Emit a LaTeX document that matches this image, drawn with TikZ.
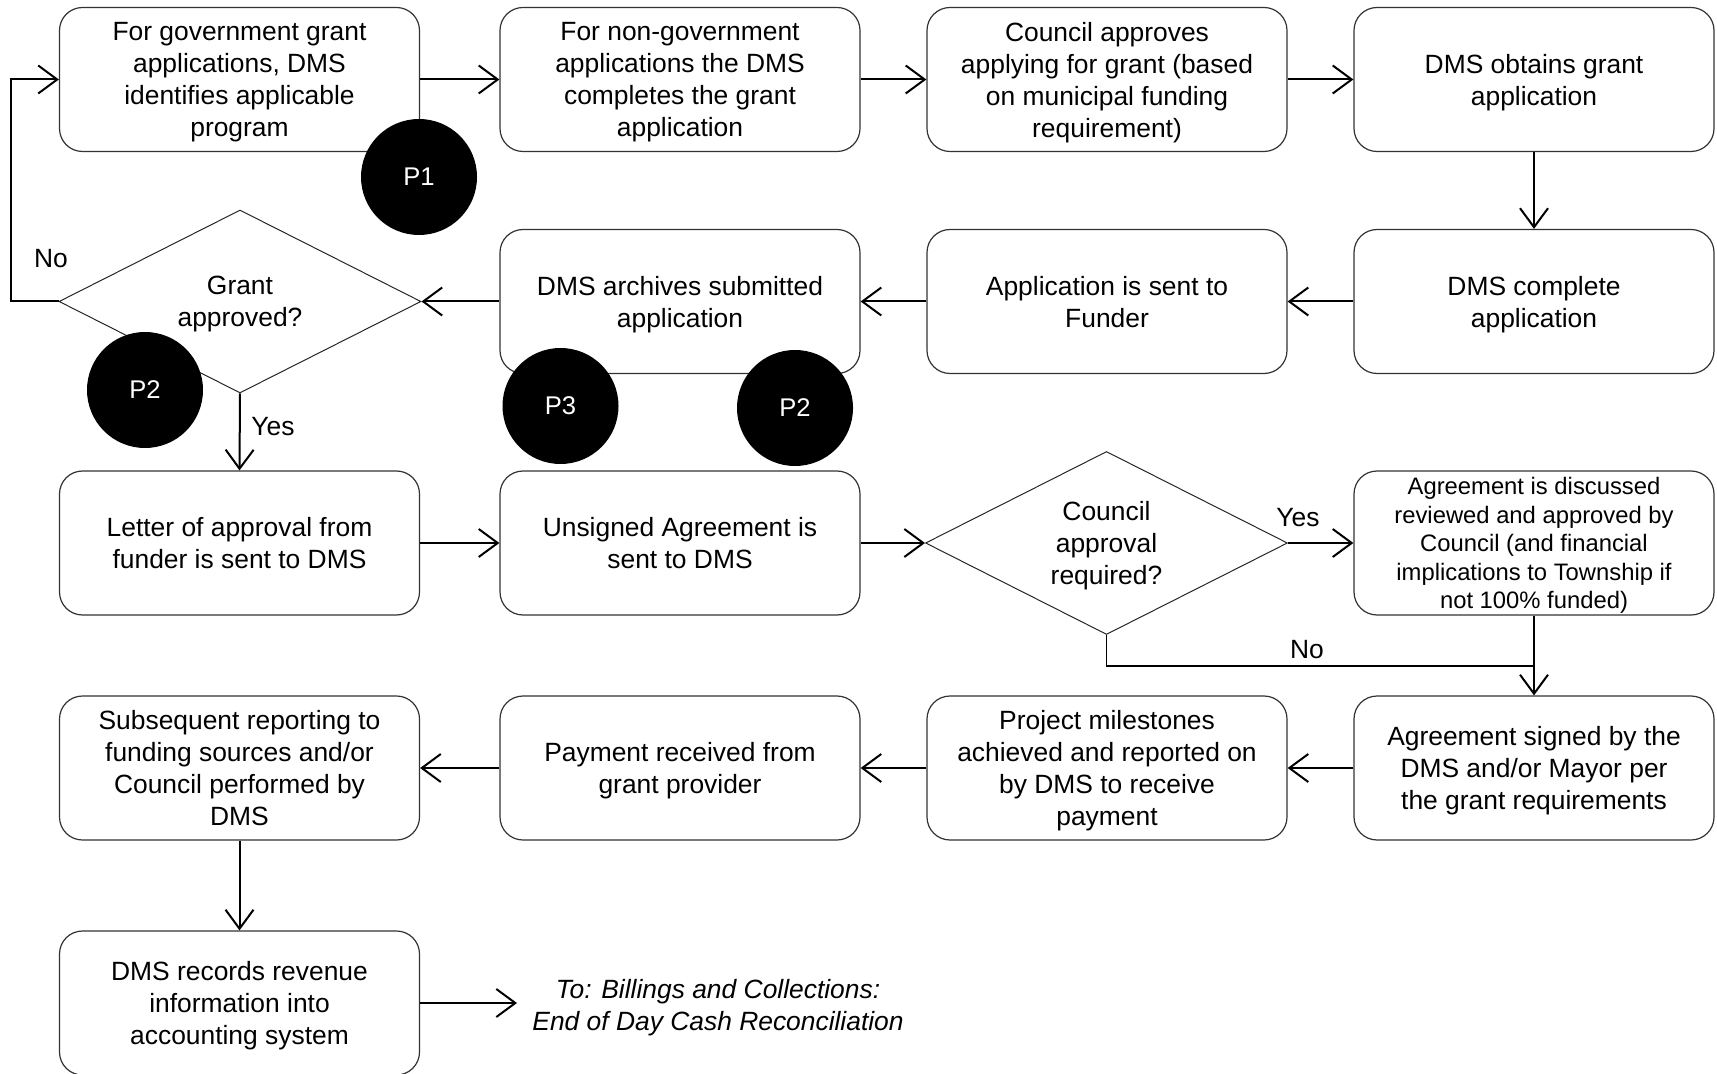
\documentclass[tikz,border=0pt]{standalone}
\usepackage{fontspec}
\setmainfont{Liberation Sans}
\usetikzlibrary{arrows.meta,shapes.geometric}
\begin{document}
\begin{tikzpicture}[x=0.5pt,y=-0.5pt,
  txt/.style={font=\fontsize{13.2pt}{16pt}\selectfont, align=center},
  % a fixed text depth keeps the text block optically centred in each shape
  procbox/.style={txt, text depth=-1.6pt, draw=black!80, line width=0.6pt, rounded corners=11.5pt,
    minimum width=180pt, minimum height=72pt, inner sep=0pt},
  smallbox/.style={procbox, font=\fontsize{11.9pt}{14.2pt}\selectfont, text depth=-0.8pt},
  decision/.style={txt, text depth=-1.6pt, draw=black!85, line width=0.5pt, shape=diamond, aspect=2,
    minimum width=181pt, minimum height=91.5pt, inner sep=0pt},
  marker/.style={circle, fill=black, minimum size=58pt, inner sep=0pt,
    text=white, font=\fontsize{12.8pt}{15pt}\selectfont},
  arr/.style={line width=1pt, -{Straight Barb[length=9.5pt,width=14pt]}},
  thinline/.style={line width=0.6pt},
  lbl/.style={txt, inner sep=0pt}]
\useasboundingbox (0,0) rectangle (1717,1074);

% Row 1
\node[procbox] (b1) at (239.5,79.5) {For government grant\\applications, DMS\\identifies applicable\\program};
\node[procbox] (b2) at (680,79.5) {For non-government\\applications the DMS\\completes the grant\\application};
\node[procbox] (b3) at (1107,79.5) {Council approves\\applying for grant (based\\on municipal funding\\requirement)};
\node[procbox] (b4) at (1534,79.5) {DMS obtains grant\\application};

% Row 2
\node[procbox] (b5) at (1534,301.5) {DMS complete\\application};
\node[procbox] (b6) at (1107,301.5) {Application is sent to\\Funder};
\node[procbox] (b7) at (680,301.5) {DMS archives submitted\\application};
\node[decision] (d1) at (240,301.5) {Grant\\approved?};

% Row 3
\node[procbox] (b8) at (239.5,543) {Letter of approval from\\funder is sent to DMS};
\node[procbox] (b9) at (680,543) {Unsigned Agreement is\\sent to DMS};
\node[decision] (d2) at (1106.5,543) {Council\\approval\\required?};
\node[smallbox] (b10) at (1534,543) {Agreement is discussed\\reviewed and approved by\\Council (and financial\\implications to Township if\\not 100\% funded)};

% Row 4
\node[procbox] (b11) at (1534,768) {Agreement signed by the\\DMS and/or Mayor per\\the grant requirements};
\node[procbox] (b12) at (1107,768) {Project milestones\\achieved and reported on\\by DMS to receive\\payment};
\node[procbox] (b13) at (680,768) {Payment received from\\grant provider};
\node[procbox] (b14) at (239.5,768) {Subsequent reporting to\\funding sources and/or\\Council performed by\\DMS};

% Row 5
\node[procbox] (b15) at (239.5,1003) {DMS records revenue\\information into\\accounting system};
\node[txt, font=\fontsize{13.2pt}{16pt}\selectfont\itshape, anchor=west, inner sep=0pt] (out) at (532,1008)
  {To: Billings and Collections:\\End of Day Cash Reconciliation};

% Connectors
\draw[arr] (b1.east) -- (b2.west);
\draw[arr] (b2.east) -- (b3.west);
\draw[arr] (b3.east) -- (b4.west);
\draw[arr] (b4.south) -- (b5.north);
\draw[arr] (b5.west) -- (b6.east);
\draw[arr] (b6.west) -- (b7.east);
\draw[arr] (b7.west) -- (d1.east);
\coordinate (loop) at (11,301.5);
\draw[arr] (d1.west) -- (loop) |- (b1.west);
\draw[arr] (d1.south) -- (b8.north);
\draw[arr] (b8.east) -- (b9.west);
\draw[arr] (b9.east) -- (d2.west);
\draw[arr] (d2.east) -- (b10.west);
\coordinate (join) at (1534,666);
\draw[thinline] (d2.south) |- (join);
\draw[arr] (b10.south) -- (b11.north);
\draw[arr] (b11.west) -- (b12.east);
\draw[arr] (b12.west) -- (b13.east);
\draw[arr] (b13.west) -- (b14.east);
\draw[arr] (b14.south) -- (b15.north);
\draw[arr] (b15.east) -- (517,1003) coordinate (outend);

% Branch labels
\node[lbl] (noA) at (51,259) {No};
\node[lbl] (yesA) at (273,427) {Yes};
\node[lbl] (yesB) at (1298,518) {Yes};
\node[lbl] (noB) at (1307,650) {No};

% Markers
\node[marker] (p1) at (419,177) {P1};
\node[marker] (p2a) at (145,390) {P2};
\node[marker] (p3) at (560.5,406) {P3};
\node[marker] (p2b) at (795,408) {P2};
\end{tikzpicture}
\end{document}
